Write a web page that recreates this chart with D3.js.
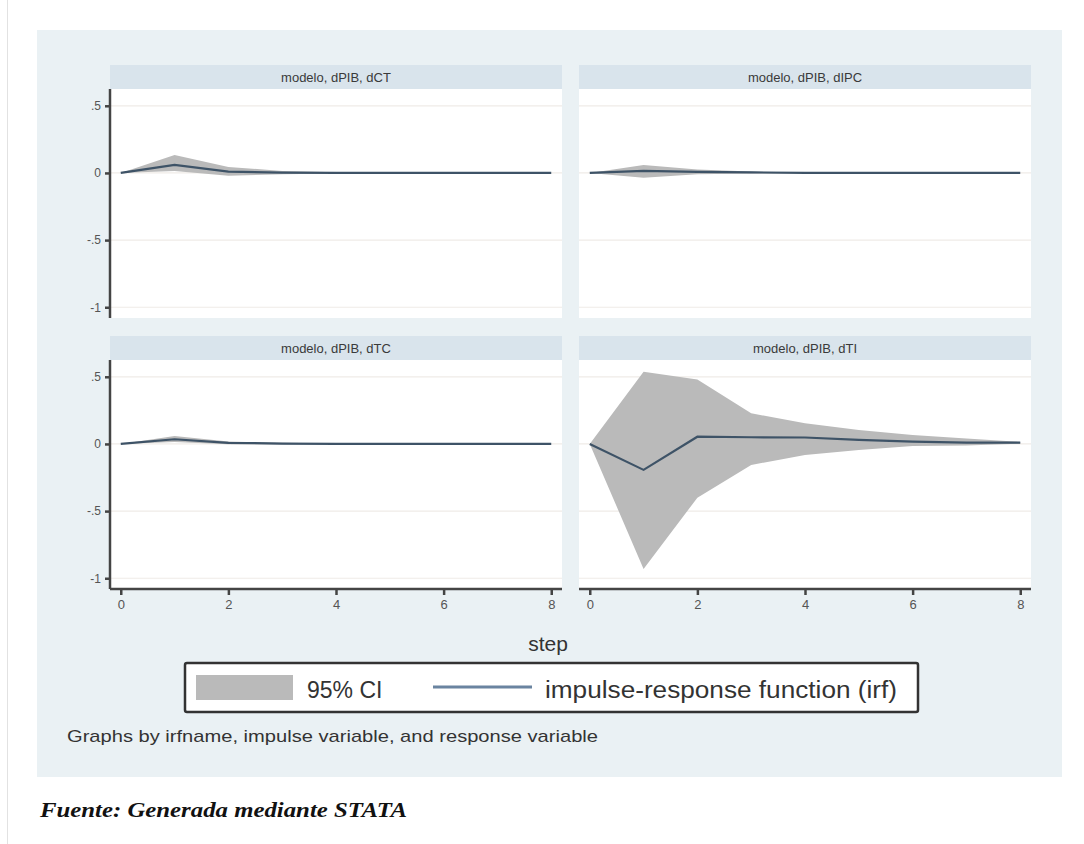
<!DOCTYPE html>
<html>
<head>
<meta charset="utf-8">
<script src="https://cdn.jsdelivr.net/npm/d3@7"></script>
<style>
  body { margin: 0; background: #fff; }
  svg { display: block; font-family: Arial, "Liberation Sans", sans-serif; }
</style>
</head>
<body>
<div id="chart"></div>
<script>
// impulse-response data
var steps = [0, 1, 2, 3, 4, 5, 6, 7, 8];
var panelTitles = ["modelo, dPIB, dCT", "modelo, dPIB, dIPC", "modelo, dPIB, dTC", "modelo, dPIB, dTI"];

var irfCT = [0, 0.060, 0.010, 0.003, 0.001, 0, 0, 0, 0];
var upCT  = [0, 0.134, 0.045, 0.015, 0.005, 0.002, 0.001, 0, 0];
var loCT  = [0, 0.015, -0.020, -0.010, -0.004, -0.002, -0.001, 0, 0];

var irfIPC = [0, 0.015, 0.008, 0.004, 0.001, 0, 0, 0, 0];
var upIPC  = [0, 0.060, 0.025, 0.010, 0.004, 0.002, 0.001, 0, 0];
var loIPC  = [0, -0.035, -0.010, -0.004, -0.002, -0.001, 0, 0, 0];

var irfTC = [0, 0.035, 0.008, 0.003, 0.001, 0, 0, 0, 0];
var upTC  = [0, 0.060, 0.018, 0.008, 0.003, 0.001, 0, 0, 0];
var loTC  = [0, 0.015, -0.002, -0.002, -0.001, 0, 0, 0, 0];

var irfTI = [0, -0.193, 0.054, 0.050, 0.048, 0.030, 0.017, 0.010, 0.010];
var upTI  = [0, 0.537, 0.480, 0.228, 0.154, 0.104, 0.067, 0.040, 0.015];
var loTI  = [0, -0.931, -0.400, -0.156, -0.082, -0.045, -0.015, -0.012, 0.002];

var yTicks = [0.5, 0, -0.5, -1];
var yTickLabels = [".5", "0", "-.5", "-1"];
var xTicks = [0, 2, 4, 6, 8];

var panels = [
  { title: panelTitles[0], irf: irfCT, up: upCT, lo: loCT },
  { title: panelTitles[1], irf: irfIPC, up: upIPC, lo: loIPC },
  { title: panelTitles[2], irf: irfTC, up: upTC, lo: loTC },
  { title: panelTitles[3], irf: irfTI, up: upTI, lo: loTI }
];

var W = 1084, H = 844;
var svg = d3.select("#chart").append("svg")
    .attr("width", W)
    .attr("height", H);

// page border + graph region
svg.append("line")
    .attr("x1", 7.5).attr("x2", 7.5).attr("y1", 0).attr("y2", H)
    .style("stroke", "#e2e2e2");
svg.append("rect")
    .attr("x", 37).attr("y", 30)
    .attr("width", 1025).attr("height", 747)
    .style("fill", "#eaf1f4");

var colX = [110, 579], rowY = [65, 336];
var plotW = 452, stripH = 24, plotH = 229;

var xScale = d3.scaleLinear().domain([-0.2, 8.2]).range([0, plotW]);
var yScale = d3.scaleLinear().domain([-1.08, 0.625]).range([plotH, 0]);

var area = d3.area()
    .x(function(d, i) { return xScale(steps[i]); })
    .y0(function(d) { return yScale(d[0]); })
    .y1(function(d) { return yScale(d[1]); });

var line = d3.line()
    .x(function(d, i) { return xScale(steps[i]); })
    .y(function(d) { return yScale(d); });

panels.forEach(function(p, k) {
    var col = k % 2, row = Math.floor(k / 2);
    var g = svg.append("g")
        .attr("transform", "translate(" + colX[col] + "," + rowY[row] + ")");

    g.append("rect")
        .attr("width", plotW).attr("height", stripH)
        .style("fill", "#d9e4ec");
    g.append("text")
        .attr("x", plotW / 2).attr("y", 16.5)
        .attr("text-anchor", "middle")
        .attr("font-size", "13px")
        .style("fill", "#3a3a3a")
        .text(p.title);

    var plot = g.append("g").attr("transform", "translate(0," + stripH + ")");
    plot.append("rect")
        .attr("width", plotW).attr("height", plotH)
        .style("fill", "#fff");

    plot.selectAll(".grid")
        .data(yTicks)
        .enter().append("line")
        .attr("x1", 0).attr("x2", plotW)
        .attr("y1", function(d) { return yScale(d); })
        .attr("y2", function(d) { return yScale(d); })
        .style("stroke", "#efebe7")
        .style("stroke-width", 1.2);

    var band = p.lo.map(function(v, i) { return [v, p.up[i]]; });
    plot.append("path")
        .datum(band)
        .attr("d", area)
        .style("fill", "#bababa");

    plot.append("path")
        .datum(p.irf)
        .attr("d", line)
        .style("fill", "none")
        .style("stroke", "#3e5367")
        .style("stroke-width", 2.2);

    if (col === 0) {
        var yAxis = plot.append("g")
            .call(d3.axisLeft(yScale)
                .tickValues(yTicks)
                .tickSize(5)
                .tickFormat(function(d, i) { return yTickLabels[i]; }));
        yAxis.select(".domain").remove();
        yAxis.append("line")
            .attr("x1", 0).attr("x2", 0).attr("y1", 0).attr("y2", plotH)
            .style("stroke", "#444").style("stroke-width", 2.5);
        yAxis.selectAll(".tick line").style("stroke", "#444").style("stroke-width", 2.5);
        yAxis.selectAll("text")
            .attr("font-size", "12px")
            .attr("x", -9)
            .style("fill", "#555");
    }

    if (row === 1) {
        var xAxis = plot.append("g")
            .attr("transform", "translate(0," + plotH + ")")
            .call(d3.axisBottom(xScale)
                .tickValues(xTicks)
                .tickSize(6)
                .tickFormat(d3.format("d")));
        xAxis.select(".domain").remove();
        xAxis.append("line")
            .attr("x1", 0).attr("x2", plotW)
            .style("stroke", "#444").style("stroke-width", 2.5);
        xAxis.selectAll(".tick line").style("stroke", "#444").style("stroke-width", 2.5);
        xAxis.selectAll("text")
            .attr("font-size", "13px")
            .attr("y", 11)
            .style("fill", "#555");
    }
});

svg.append("text")
    .attr("x", 548).attr("y", 651)
    .attr("text-anchor", "middle")
    .attr("font-size", "21px")
    .style("fill", "#333")
    .text("step");

// legend
var legend = svg.append("g");
legend.append("rect")
    .attr("x", 185).attr("y", 663)
    .attr("width", 733).attr("height", 49)
    .attr("rx", 2)
    .style("fill", "#fff")
    .style("stroke", "#333")
    .style("stroke-width", 2.5);
legend.append("rect")
    .attr("x", 196).attr("y", 675)
    .attr("width", 97).attr("height", 25)
    .style("fill", "#bababa");
legend.append("text")
    .attr("x", 307).attr("y", 698)
    .attr("font-size", "23px")
    .style("fill", "#333")
    .text("95% CI");
legend.append("line")
    .attr("x1", 433).attr("x2", 532)
    .attr("y1", 687).attr("y2", 687)
    .style("stroke", "#6a84a0")
    .style("stroke-width", 3);
legend.append("text")
    .attr("x", 545).attr("y", 698)
    .attr("font-size", "23px")
    .attr("textLength", 352)
    .attr("lengthAdjust", "spacingAndGlyphs")
    .style("fill", "#333")
    .text("impulse-response function (irf)");

svg.append("text")
    .attr("x", 67).attr("y", 742)
    .attr("font-size", "17px")
    .attr("textLength", 531)
    .attr("lengthAdjust", "spacingAndGlyphs")
    .style("fill", "#333")
    .text("Graphs by irfname, impulse variable, and response variable");

svg.append("text")
    .attr("x", 40).attr("y", 817)
    .attr("font-size", "21px")
    .attr("font-weight", "bold")
    .attr("font-style", "italic")
    .attr("textLength", 367)
    .attr("lengthAdjust", "spacingAndGlyphs")
    .style("font-family", "'Liberation Serif', 'Times New Roman', serif")
    .style("fill", "#111")
    .text("Fuente: Generada mediante STATA");
</script>
</body>
</html>
